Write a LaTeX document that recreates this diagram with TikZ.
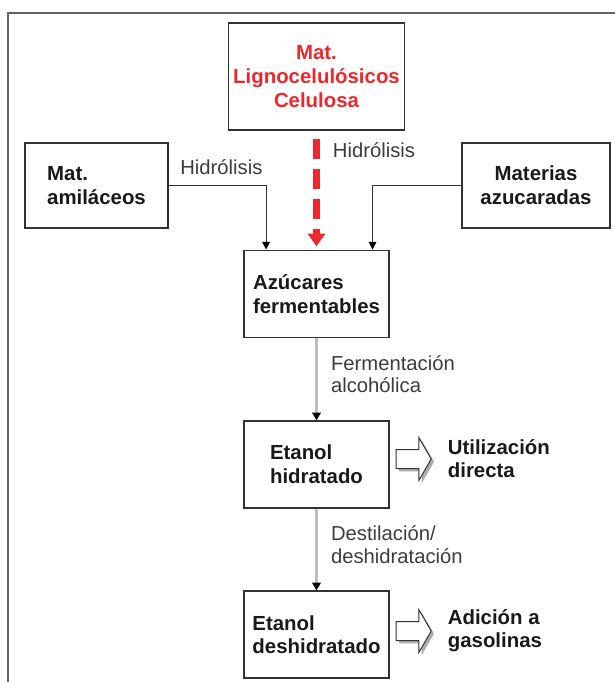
\documentclass[tikz,border=0pt]{standalone}
\usepackage{fontspec}
\setmainfont{Liberation Sans}
\usetikzlibrary{arrows.meta, positioning, shapes.arrows, shadows}

\definecolor{lignored}{RGB}{236,40,45}
\definecolor{framegray}{RGB}{100,100,100}
\definecolor{boxline}{RGB}{50,50,50}
\definecolor{labeltext}{RGB}{60,60,60}

\begin{document}
\begin{tikzpicture}[
  x=0.025cm, y=-0.025cm,
  box/.style      = {draw=boxline, line width=1pt, rectangle,
                     minimum width=3.625cm, minimum height=2.175cm,
                     align=left, text=black!90,
                     font=\fontsize{14.5}{17}\selectfont\bfseries},
  source/.style   = {box, align=center, minimum height=2.125cm},
  ligno/.style    = {box, align=center, text=lignored,
                     minimum width=4.325cm, minimum height=2.675cm},
  conn/.style     = {draw=boxline, line width=0.7pt,
                     -{Triangle[length=5.5pt, width=5.5pt, color=black]}},
  flow/.style     = {draw=gray!50, line width=1.6pt,
                     -{Triangle[length=5.5pt, width=6pt, color=black]}},
  hydro/.style    = {draw=lignored, line width=4.3pt,
                     dash pattern=on 0.5cm off 0.25cm,
                     -{Triangle[length=9pt, width=12pt]}},
  lbl/.style      = {font=\fontsize{14.4}{16}\selectfont, align=left,
                     text=labeltext, inner sep=1pt},
  bigarrow/.style = {single arrow, draw=boxline, line width=0.7pt, fill=white,
                     minimum height=0.875cm, minimum width=1.05cm,
                     inner xsep=0pt, inner ysep=0.225cm,
                     single arrow head extend=0.3cm, single arrow tip angle=120,
                     drop shadow={shadow xshift=0.07cm, shadow yshift=-0.07cm,
                                  fill=gray!80, opacity=0.8}},
  use/.style      = {font=\fontsize{14.5}{16.5}\selectfont\bfseries,
                     align=left, text=black!90, inner sep=1pt},
]

\useasboundingbox (0,0) rectangle (615,682);

% marco exterior
\draw[framegray, line width=1.8pt] (8,682) -- (8,13) -- (615,13);

% materias primas
\node[ligno] (ligno) at (316.5,76.5) {Mat.\\Lignocelulósicos\\Celulosa};
\node[source, minimum width=3.575cm, align=left] (amil) at (96.5,185.5)
  {Mat.\\amiláceos};
\node[source, minimum width=3.7cm] (sacar) at (536,185.5)
  {Materias\\azucaradas};

% columna central
\node[box, below=2.97cm of ligno]  (azuc)    {Azúcares\\fermentables};
\node[box, below=2.06cm of azuc]   (hidr)    {Etanol\\hidratado};
\node[box, below=2.04cm of hidr]   (deshidr) {Etanol\\deshidratado};

% usos
\node[bigarrow, right=0.15cm of hidr, yshift=0.14cm]    (arr1) {};
\node[use, right=0.36cm of arr1]                        (util) {Utilización\\directa};
\node[bigarrow, right=0.15cm of deshidr, yshift=0.09cm] (arr2) {};
\node[use, right=0.36cm of arr2]                        (gaso) {Adición a\\gasolinas};

% conectores
\draw[conn] (amil.east) -| node[lbl, pos=0.25, above=0.22cm, xshift=0.1cm]{Hidrólisis}
  ([xshift=-1.26cm]azuc.north);
\draw[conn] (sacar.west) -| ([xshift=1.4cm]azuc.north);
\draw[hydro] ([yshift=-0.2cm]ligno.south) --
  node[lbl, pos=0.11, right=0.3cm]{Hidrólisis}
  ([yshift=0.08cm]azuc.north);
\draw[flow] (azuc) -- node[lbl, pos=0.44, right=0.3cm]{Fermentación\\alcohólica} (hidr);
\draw[flow] (hidr) -- node[lbl, pos=0.44, right=0.3cm]{Destilación/\\deshidratación} (deshidr);

\end{tikzpicture}
\end{document}
